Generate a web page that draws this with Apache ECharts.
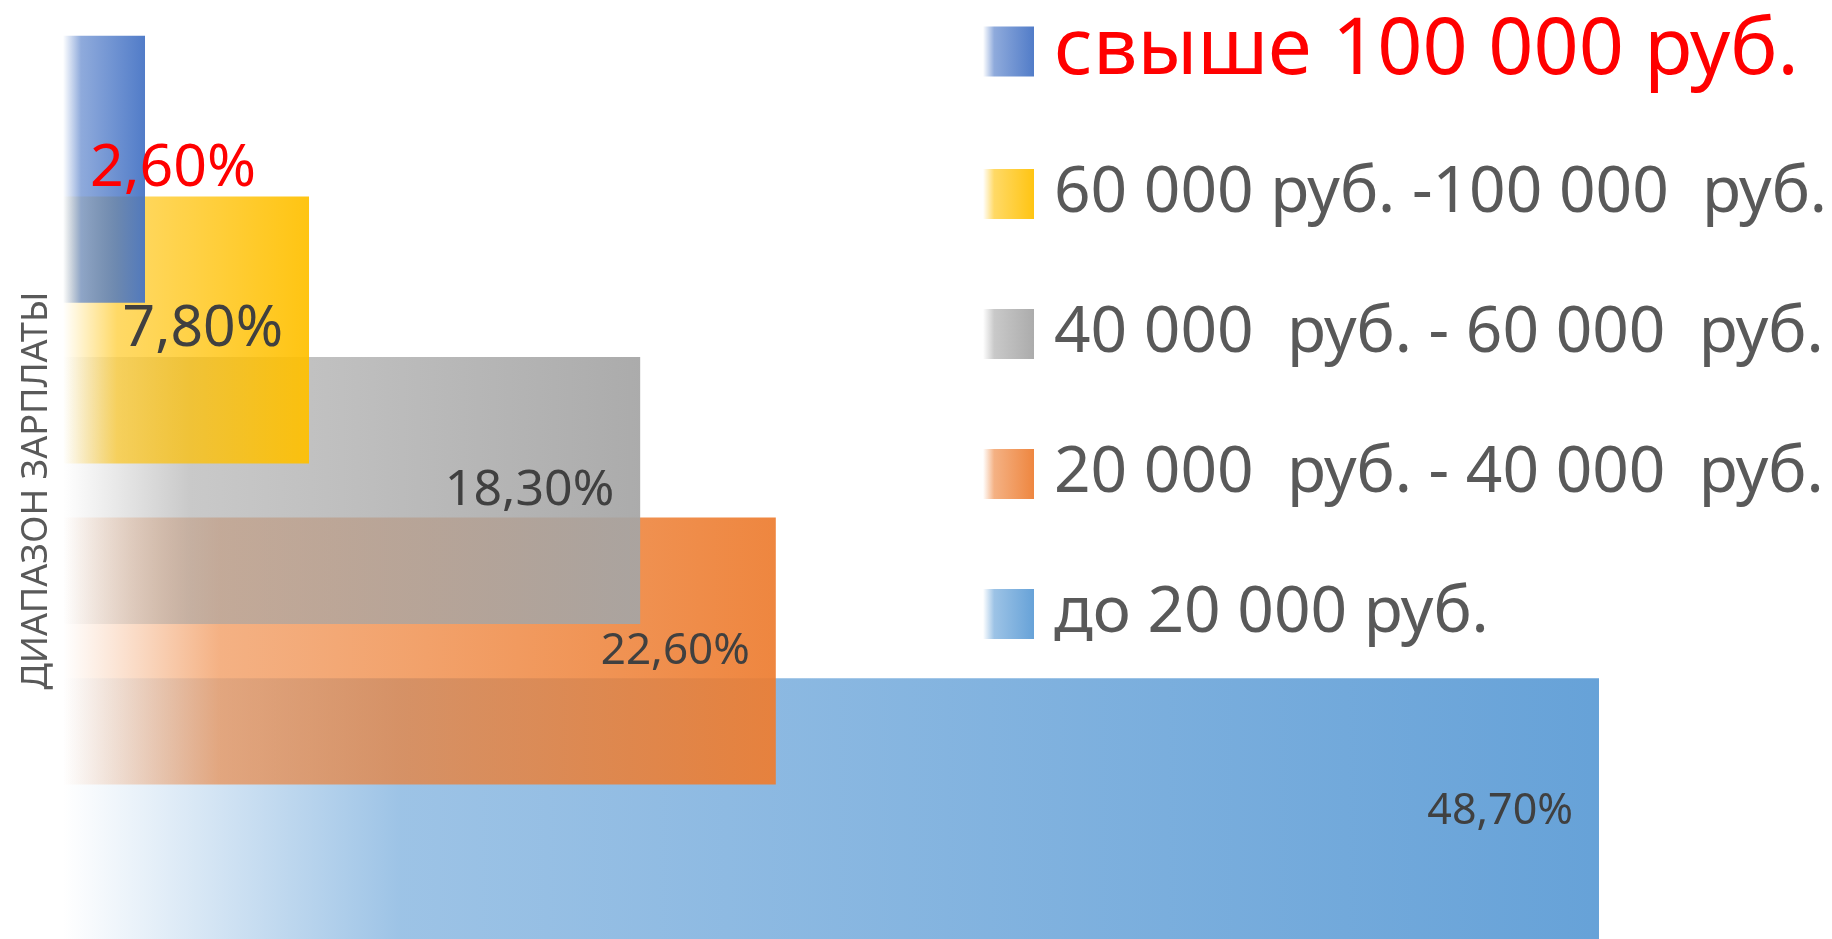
<!DOCTYPE html>
<html>
<head>
<meta charset="utf-8">
<script src="https://cdn.jsdelivr.net/npm/echarts@6/dist/echarts.min.js"></script>
<style>
  html, body { margin: 0; padding: 0; background: #fff; }
  #chart { width: 1832px; height: 939px; }
</style>
</head>
<body>
<div id="chart"></div>
<script>
// bottom to top: first category sits at the bottom and is drawn first
const categories = [
  "до 20 000 руб.",
  "20 000  руб. - 40 000  руб.",
  "40 000  руб. - 60 000  руб.",
  "60 000 руб. -100 000  руб.",
  "свыше 100 000 руб.",
];
const shares = [48.7, 22.6, 18.3, 7.8, 2.6];
const barColors = ["#5B9BD5", "#ED7D31", "#A5A5A5", "#FFC000", "#4472C4"];
const labelSizes = [43, 44, 50, 57, 59];
const highlightName = "свыше 100 000 руб.";

const chartDom = document.getElementById("chart");
const chart = echarts.init(chartDom);

function hexToRgba(hex, alpha) {
  const n = parseInt(hex.slice(1), 16);
  return `rgba(${(n >> 16) & 255}, ${(n >> 8) & 255}, ${n & 255}, ${alpha})`;
}

function fadeFill(hex) {
  return new echarts.graphic.LinearGradient(0, 0, 1, 0, [
    { offset: 0, color: hexToRgba(hex, 0) },
    { offset: 0.22, color: hexToRgba(hex, 0.6) },
    { offset: 1, color: hexToRgba(hex, 0.93) },
  ]);
}

function formatShare(value) {
  return `${value.toFixed(2).replace(".", ",")}%`;
}

const series = categories.map((name, i) => {
  const isTop = name === highlightName;
  return {
    name: name,
    type: "bar",
    barWidth: 267,
    barGap: "-100%",
    clip: false,
    data: categories.map((_, j) => (j === i ? shares[i] : "-")),
    itemStyle: { color: fadeFill(barColors[i]) },
    label: {
      show: true,
      position: isTop ? "insideLeft" : "insideRight",
      distance: isTop ? 27 : 26,
      fontFamily: "Noto Sans",
      fontSize: labelSizes[i],
      color: isTop ? "#FF0000" : "#404040",
      formatter: (p) => formatShare(p.value),
    },
    emphasis: { disabled: true },
  };
});

// legend lists top to bottom; the red item gets its own block so the
// bigger font does not push the rest down
const otherNames = categories.filter((name) => name !== highlightName).reverse();

const legendBase = {
  orient: "vertical",
  left: 978,
  icon: "rect",
  itemWidth: 51,
  itemHeight: 50,
  itemGap: 76,
  selectedMode: false,
  textStyle: {
    fontFamily: "Noto Sans",
    padding: [0, 0, 0, 15],
  },
};

const option = {
  animation: false,
  backgroundColor: "#ffffff",
  legend: [
    {
      ...legendBase,
      top: 7,
      data: [{ name: highlightName, textStyle: { color: "#FF0000", fontSize: 79 } }],
    },
    {
      ...legendBase,
      top: 157,
      data: otherNames.map((name) => ({
        name: name,
        textStyle: { color: "#595959", fontSize: 64 },
      })),
    },
  ],
  grid: { left: 63, right: 192, top: 89, bottom: 47 },
  xAxis: {
    type: "value",
    min: 0,
    max: 50,
    show: false,
  },
  yAxis: {
    type: "category",
    data: categories,
    name: "ДИАПАЗОН ЗАРПЛАТЫ",
    nameLocation: "middle",
    nameRotate: 90,
    nameGap: 8,
    nameTextStyle: { fontFamily: "Noto Sans", fontSize: 36, color: "#595959" },
    axisLine: { show: false },
    axisTick: { show: false },
    axisLabel: { show: false },
    splitLine: { show: false },
  },
  series: series,
};

chart.setOption(option);
</script>
</body>
</html>
